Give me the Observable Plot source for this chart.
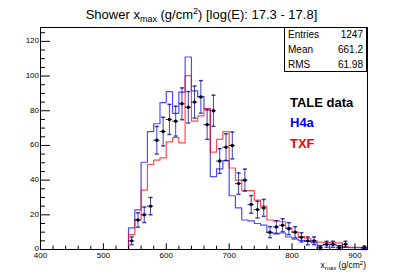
<!DOCTYPE html>
<html>
<head>
<meta charset="utf-8">
<script src="https://cdn.jsdelivr.net/npm/d3@7"></script>
<script src="https://cdn.jsdelivr.net/npm/@observablehq/plot@0.6"></script>
<style>
  body { margin: 0; background: #fff; }
  #wrap { position: relative; width: 407px; height: 277px; font-family: "Liberation Sans", Arial, sans-serif; color: #000; overflow: hidden; }
  #wrap svg { position: absolute; left: 0; top: 0; }
  .ov { position: absolute; white-space: nowrap; }
  #title { left: 0; top: 8px; width: 403px; text-align: center; font-size: 13px; line-height: 13px; }
  #title sub, #title sup, #xlabel sub, #xlabel sup { line-height: 0; }
  #statbox { left: 284px; top: 27px; width: 83px; height: 45px; box-sizing: border-box; border: 1px solid #000; background: #fff; }
  .srow { position: absolute; left: 288px; width: 75px; font-size: 10px; line-height: 10px; }
  .srow .v { position: absolute; right: 0; top: 0; }
  .leg { left: 290px; font-size: 13px; line-height: 13px; font-weight: bold; }
  #xlabel { right: 41px; top: 261px; font-size: 8.5px; line-height: 9px; }
</style>
</head>
<body>
<div id="wrap"></div>
<script>
// ---------------- data ----------------
const binCenters = [545, 555, 565, 575, 585, 595, 605, 615, 625, 635,
                    645, 655, 665, 675, 685, 695, 705, 715, 725, 735,
                    745, 755, 765, 775, 785, 795, 805, 815, 825, 835,
                    845, 855, 865, 875, 885, 895, 905, 915];
const binWidth = 10;
// TALE data counts per bin
const taleCounts = [5, 17, 20, 25, 63, 68, 75, 74, 84, 82,
                    85, 88, 72, 80, 51, 59, 60, 38, 40, 26,
                    23, 24, 10, 13, 14, 12, 10, 7, 5, 5,
                    1, 3, 3, 1, 3, 0, 0, 1];
// H4a simulation (blue)
const h4a = [12.5, 22.9, 50.3, 68, 72.5, 84.7, 91, 78.5, 90.7, 111,
             91.5, 88.2, 81, 42, 46.5, 51.3, 31, 24, 17, 16.5,
             15, 14, 9.7, 9, 9.5, 7.2, 6, 5.3, 4.6, 4,
             2.4, 2.8, 2.8, 2.2, 1.3, 1, 1, 0.8];
// TXF simulation (red)
const txf = [8.6, 17.1, 34.2, 49, 51.5, 52.8, 62, 64.5, 61.5, 100.3,
             74, 77, 81.2, 56.1, 63.5, 68, 47, 40, 34, 34,
             28.5, 25, 17, 16.5, 16, 12.5, 10, 7.5, 6.5, 5,
             4.2, 4, 4, 3.8, 1.5, 1.3, 1.3, 1.3];
const xDomain = [400, 920];
const yDomain = [0, 128];
const xMajorTicks = [400, 500, 600, 700, 800, 900];
const yMajorTicks = [0, 20, 40, 60, 80, 100, 120];
const statLabels = ["Entries", "Mean", "RMS"];
const statValues = ["1247", "661.2", "61.98"];
const legendLabels = ["TALE data", "H4a", "TXF"];
const legendColors = ["#000000", "#0000ff", "#ff0000"];

// ---------------- layout ----------------
const W = 407, H = 277;
const mL = 40, mR = 40, mT = 27, mB = 28;
const frameW = W - mL - mR, frameH = H - mT - mB;

const xMinorTicks = d3.range(xDomain[0], xDomain[1] + 1, 20).filter(v => !xMajorTicks.includes(v));
const yMinorTicks = d3.range(yDomain[0], yDomain[1], 5).filter(v => !yMajorTicks.includes(v));

function stepSeries(vals) {
  const pts = [{x: xDomain[0], y: 0}];
  vals.forEach((v, i) => pts.push({x: binCenters[i] - binWidth / 2, y: v}));
  pts.push({x: binCenters[vals.length - 1] + binWidth / 2, y: vals[vals.length - 1]});
  return pts;
}

const pts = binCenters.map((c, i) => ({c, n: taleCounts[i], e: Math.sqrt(taleCounts[i])}))
  .filter(d => d.n > 0);

const capSymbol = {
  draw(context, size) {
    const r = Math.sqrt(size / Math.PI);
    context.moveTo(-r, 0);
    context.lineTo(r, 0);
  }
};
const errColor = "#000099";

const chart = Plot.plot({
  width: W, height: H,
  marginLeft: mL, marginRight: mR, marginTop: mT, marginBottom: mB,
  style: {fontFamily: "'Liberation Sans', Arial, sans-serif", fontSize: "8px", background: "transparent", overflow: "visible"},
  x: {domain: xDomain, axis: null},
  y: {domain: yDomain, axis: null},
  marks: [
    // MC histograms
    Plot.line(stepSeries(h4a), {x: "x", y: "y", curve: "step-after", stroke: "#0000ff", strokeWidth: 1.2, strokeOpacity: 0.7}),
    Plot.line(stepSeries(txf), {x: "x", y: "y", curve: "step-after", stroke: "#ff0000", strokeWidth: 1.2, strokeOpacity: 0.7}),
    // data error bars
    Plot.ruleX(pts, {x: "c", y1: d => d.n - d.e, y2: d => d.n + d.e, stroke: errColor, strokeWidth: 1, strokeOpacity: 0.75}),
    Plot.ruleY(pts, {y: "n", x1: d => d.c - binWidth / 2, x2: d => d.c + binWidth / 2, stroke: errColor, strokeWidth: 1, strokeOpacity: 0.85}),
    Plot.dot(pts, {x: "c", y: d => d.n + d.e, symbol: capSymbol, r: 2, stroke: errColor, strokeOpacity: 0.75, fill: "none"}),
    Plot.dot(pts, {x: "c", y: d => d.n - d.e, symbol: capSymbol, r: 2, stroke: errColor, strokeOpacity: 0.75, fill: "none"}),
    Plot.dot(pts, {x: "c", y: "n", r: 1.7, fill: "#000", stroke: "none"}),
    // ticks (inward, ROOT style)
    Plot.ruleY(yMajorTicks, {y: d => d, insetRight: frameW - 10, stroke: "#000"}),
    Plot.ruleY(yMinorTicks, {y: d => d, insetRight: frameW - 5, stroke: "#000"}),
    Plot.ruleX(xMajorTicks, {x: d => d, insetTop: frameH - 5.7, stroke: "#000"}),
    Plot.ruleX(xMinorTicks, {x: d => d, insetTop: frameH - 3.3, stroke: "#000"}),
    // tick labels
    Plot.axisY({ticks: yMajorTicks, tickSize: 0, tickPadding: 1.5, label: null, fontSize: 8, dy: -0.6}),
    Plot.axisX({ticks: xMajorTicks, tickSize: 0, tickPadding: 3, label: null, fontSize: 8, tickFormat: d => String(d)}),
    Plot.frame({stroke: "#000"})
  ]
});

const wrap = document.getElementById("wrap");
wrap.appendChild(chart);

// title
const t = document.createElement("div");
t.className = "ov"; t.id = "title";
t.innerHTML = 'Shower x<sub style="font-size:9px;vertical-align:-3px">max</sub> (g/cm<sup style="font-size:9px;vertical-align:5px">2</sup>) [log(E): 17.3 - 17.8]';
wrap.appendChild(t);

// stats box
const sb = document.createElement("div");
sb.className = "ov"; sb.id = "statbox";
wrap.appendChild(sb);
const statTops = [29.8, 44.8, 59.8];
statLabels.forEach((lab, i) => {
  const r = document.createElement("div");
  r.className = "ov srow";
  r.style.top = statTops[i] + "px";
  r.innerHTML = `<span>${lab}</span><span class="v">${statValues[i]}</span>`;
  wrap.appendChild(r);
});

// legend text
const legTops = [95.7, 116.3, 136.7];
legendLabels.forEach((lab, i) => {
  const d = document.createElement("div");
  d.className = "ov leg";
  d.style.top = legTops[i] + "px";
  d.style.color = legendColors[i];
  d.textContent = lab;
  wrap.appendChild(d);
});

// x axis title
const xl = document.createElement("div");
xl.className = "ov"; xl.id = "xlabel";
xl.innerHTML = 'x<sub style="font-size:6px;vertical-align:-2px">max</sub> (g/cm<sup style="font-size:6px;vertical-align:3px">2</sup>)';
wrap.appendChild(xl);
</script>
</body>
</html>
